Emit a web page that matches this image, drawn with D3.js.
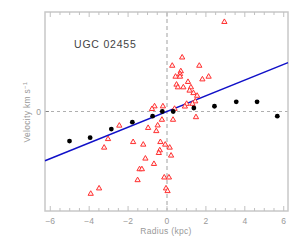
<!DOCTYPE html>
<html>
<head>
<meta charset="utf-8">
<script src="https://cdn.jsdelivr.net/npm/d3@7"></script>
<style>
  body { margin: 0; background: #fff; }
  text { font-family: "Liberation Sans", Arial, sans-serif; }
</style>
</head>
<body>
<div id="chart"></div>
<script>
// rotation curve points (kpc, km/s)
var curveR = [-5.01, -3.95, -2.86, -1.78, -0.74, -0.24, 0.32, 1.38, 2.44, 3.56, 4.63, 5.67];
var curveV = [-29.7, -26.3, -17.7, -10.7, -4.7, 0, 0, 3.5, 5.3, 9.7, 9.7, -4.7];

// individual measurements (triangles)
var pointR = [2.95, 0.78, 0.27, 1.66, 0.71, 0.67, 0.44, 0.67, 2.14, 1.82, 1.08, 0.49, 0.56, 0.84,
              1.23, 1.16, 1.36, 1.55, 1.45, 1.31, 1.01, 0.92, 0.39, -0.64, -0.21, -0.77, 1.49, -0.26,
              0.31, -2.45, -0.48, -0.97, -0.55, -3.03, -1.74, -0.34, -1.22, -0.09, -3.23, 0.14, -0.37,
              -0.42, 0.21, -1.11, -0.67, -1.41, -1.29, -0.14, 0.10, -1.51, -0.05, 0.03, -3.49, -3.92];
var pointV = [90, 54.3, 46, 46, 40.5, 37.7, 35, 35, 35, 32.3, 29.7, 27, 24.3, 24.3,
              24.3, 21, 18.5, 15.8, 10.2, 7.7, 7.7, 5, 2.7, 5.2, 5.2, 2.5, -5.7, -8.3,
              -8.3, -14.2, -14, -16.5, -19.7, -27.7, -30.7, -30.7, -33.3, -33.3, -36.3, -36.3, -39,
              -41.7, -44.3, -47.3, -52.7, -58, -58, -66.3, -66.3, -69, -77.3, -80, -77.3, -82.7];

// linear fit v = slope * r + intercept
var fitSlope = 7.9;
var fitIntercept = 0;

var xTicks = [-6, -4, -2, 0, 2, 4, 6];
var yTicks = [0];
var title = "UGC 02455";

var width = 300, height = 240;
var plotLeft = 45, plotRight = 288, plotTop = 12, plotBottom = 211;

var svg = d3.select("#chart").append("svg")
    .attr("width", width)
    .attr("height", height);

var x = d3.scaleLinear().domain([-6.27, 6.22]).range([plotLeft, plotRight]);
var y = d3.scaleLinear().domain([-100, 100]).range([plotBottom, plotTop]);

// zero lines
svg.append("line")
    .attr("x1", x(0)).attr("x2", x(0))
    .attr("y1", plotTop).attr("y2", plotBottom)
    .attr("stroke", "#d0d0d0")
    .attr("stroke-width", 2)
    .attr("stroke-dasharray", "4,3");
svg.append("line")
    .attr("x1", plotLeft).attr("x2", plotRight)
    .attr("y1", y(0)).attr("y2", y(0))
    .attr("stroke", "#9a9a9a")
    .attr("stroke-width", 0.8)
    .attr("stroke-dasharray", "3,3");
svg.append("line")
    .attr("x1", plotLeft).attr("x2", plotLeft + 4)
    .attr("y1", y(0)).attr("y2", y(0))
    .attr("stroke", "#777")
    .attr("stroke-width", 0.8);

// frame
svg.append("rect")
    .attr("x", plotLeft).attr("y", plotTop)
    .attr("width", plotRight - plotLeft).attr("height", plotBottom - plotTop)
    .attr("fill", "none")
    .attr("stroke", "#c8c8c8")
    .attr("stroke-width", 1.5);

// ticks on top and bottom (minor every 0.5, major every 2)
var minor = d3.range(-6, 6.01, 0.5);
minor.forEach(function(t) {
    var isMajor = xTicks.indexOf(t) >= 0;
    var len = isMajor ? 5 : 3;
    svg.append("line")
        .attr("x1", x(t)).attr("x2", x(t))
        .attr("y1", plotBottom).attr("y2", plotBottom - len)
        .attr("stroke", "#c0c0c0").attr("stroke-width", 1);
    svg.append("line")
        .attr("x1", x(t)).attr("x2", x(t))
        .attr("y1", plotTop).attr("y2", plotTop + len)
        .attr("stroke", "#c0c0c0").attr("stroke-width", 1);
});

svg.selectAll(".xlab")
    .data(xTicks)
    .enter().append("text")
    .attr("x", function(d) { return x(d); })
    .attr("y", 224)
    .attr("text-anchor", "middle")
    .attr("font-size", 8.5)
    .attr("fill", "#999")
    .text(function(d) { return d < 0 ? "\u2212" + Math.abs(d) : d; });

svg.selectAll(".ylab")
    .data(yTicks)
    .enter().append("text")
    .attr("x", 41)
    .attr("y", function(d) { return y(d) + 3; })
    .attr("text-anchor", "end")
    .attr("font-size", 8.5)
    .attr("fill", "#999")
    .text(function(d) { return d; });

svg.append("text")
    .attr("x", 166)
    .attr("y", 234)
    .attr("text-anchor", "middle")
    .attr("font-size", 8.5)
    .attr("letter-spacing", 0.3)
    .attr("fill", "#999")
    .text("Radius (kpc)");

var yl = svg.append("text")
    .attr("transform", "translate(30,112) rotate(-90)")
    .attr("text-anchor", "middle")
    .attr("font-size", 8.5)
    .attr("letter-spacing", 0.3)
    .attr("fill", "#999");
yl.append("tspan").text("Velocity  km s");
yl.append("tspan").attr("dy", -3).attr("font-size", 6).text("\u22121");

// title
svg.append("text")
    .attr("x", 74)
    .attr("y", 48)
    .attr("font-size", 10.5)
    .attr("letter-spacing", 0.8)
    .attr("fill", "#444")
    .text(title);

// fit line
var lineR = x.domain();
var fit = d3.line()
    .x(function(d) { return x(d); })
    .y(function(d) { return y(fitSlope * d + fitIntercept); });
svg.append("path")
    .attr("d", fit(lineR))
    .attr("fill", "none")
    .attr("stroke", "#1010c8")
    .attr("stroke-width", 1.5);

// triangles
var tri = d3.symbol().type(d3.symbolTriangle).size(12);
svg.selectAll(".tri")
    .data(pointR.map(function(r, i) { return [r, pointV[i]]; }))
    .enter().append("path")
    .attr("d", tri)
    .attr("transform", function(d) { return "translate(" + x(d[0]) + "," + y(d[1]) + ")"; })
    .attr("fill", "#fff0f0")
    .attr("stroke", "#ff3030")
    .attr("stroke-width", 1);

// rotation curve dots
svg.selectAll(".dot")
    .data(curveR.map(function(r, i) { return [r, curveV[i]]; }))
    .enter().append("circle")
    .attr("cx", function(d) { return x(d[0]); })
    .attr("cy", function(d) { return y(d[1]); })
    .attr("r", 2.4)
    .attr("fill", "#000");
</script>
</body>
</html>
